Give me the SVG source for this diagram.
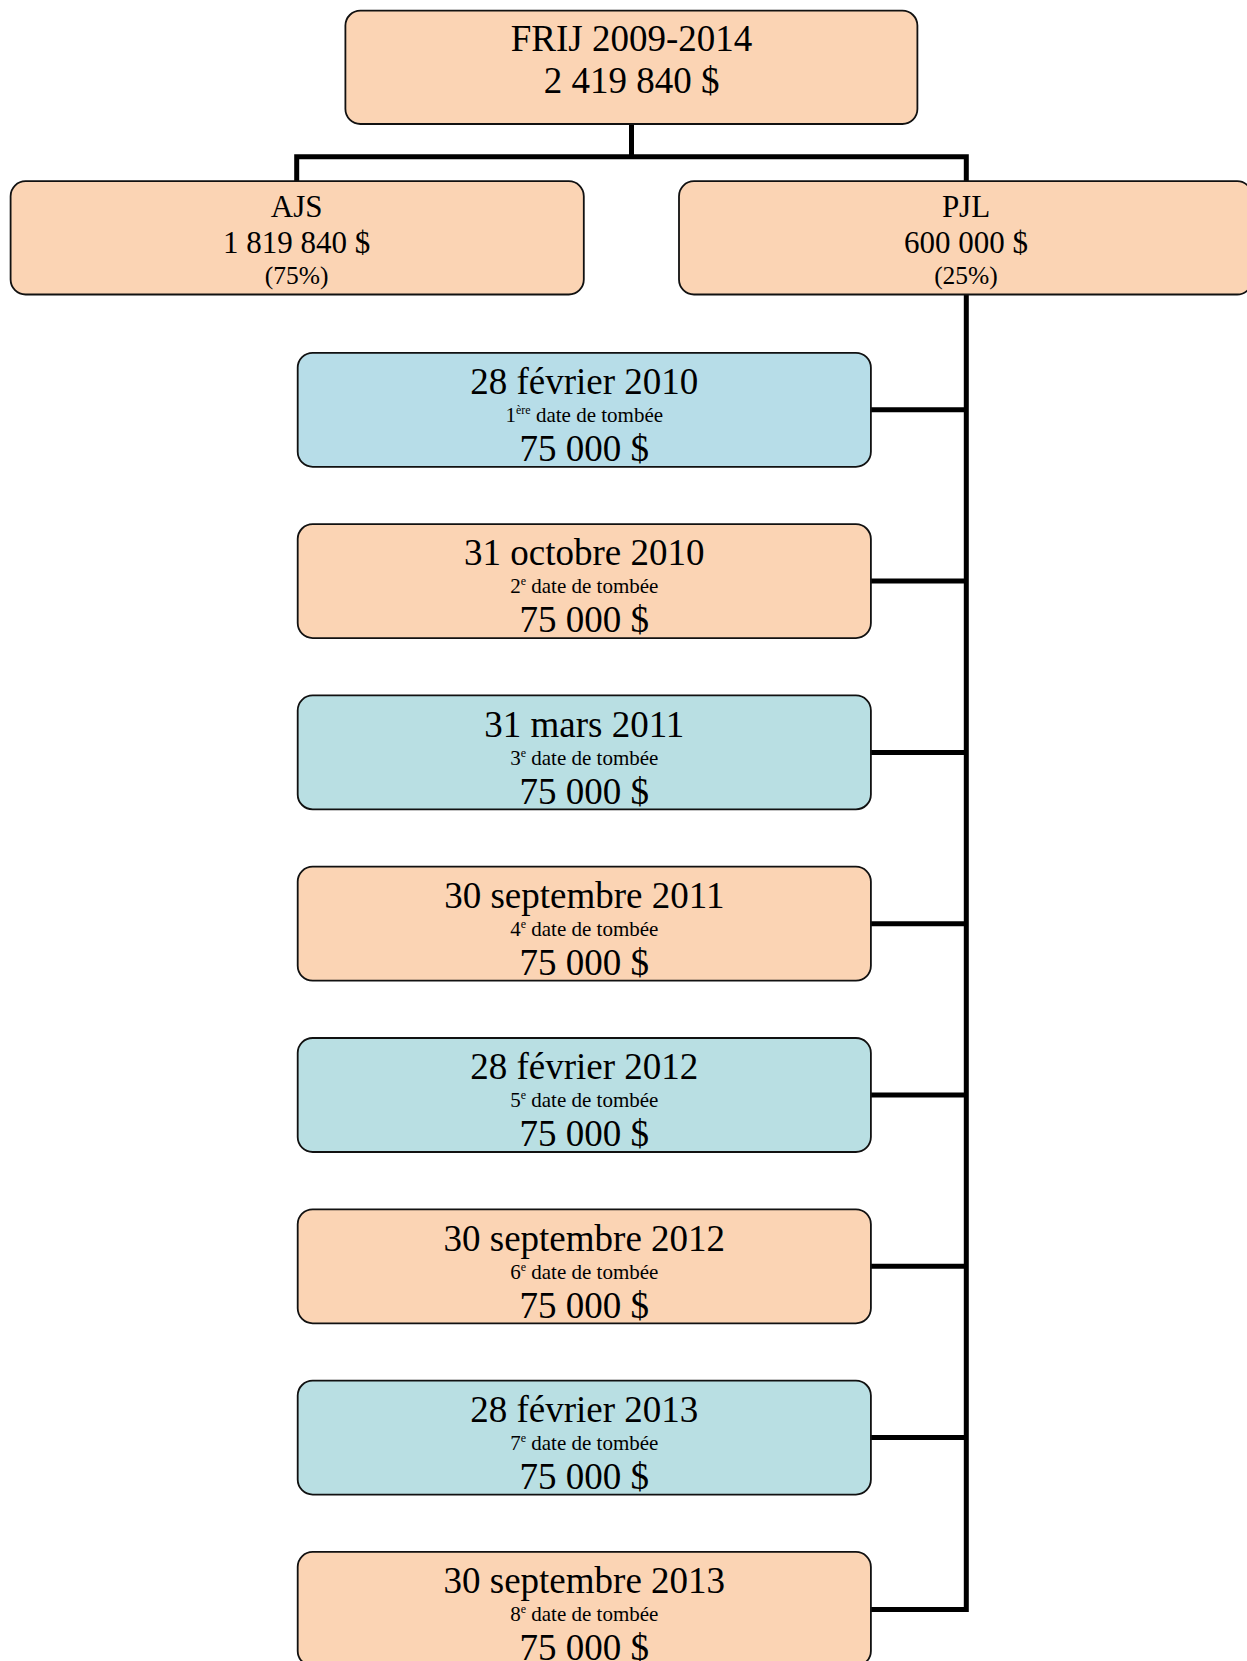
<svg xmlns="http://www.w3.org/2000/svg" width="1247" height="1661" viewBox="0 0 1247 1661">
<style>
.box{stroke:#111;stroke-width:1.8}
.peach{fill:#FBD4B4}
.blue{fill:#B7DDE8}
.teal{fill:#B9DFE3}
text{font-family:"Liberation Serif","Times New Roman",serif;fill:#000;text-anchor:middle}
.t37{font-size:37px}
.t31{font-size:31px}
.t25{font-size:25.5px}
.t21{font-size:21px}
.sup{font-size:12px}
.conn{fill:none;stroke:#000;stroke-width:5;stroke-linejoin:miter;stroke-linecap:butt}
</style>
<g id="connectors">
<path class="conn" d="M631.5,124 V156.8 M296.7,181.2 V156.8 H966.3 V181.2"/>
<path class="conn" d="M966.3,294.5 V1609.4 H870.9"/>
<path class="conn" d="M870.9,409.8 H966.3 M870.9,581.1 H966.3 M870.9,752.4 H966.3 M870.9,923.7 H966.3 M870.9,1095 H966.3 M870.9,1266.3 H966.3 M870.9,1437.6 H966.3"/>
</g>
<g id="frij">
<rect class="box peach" x="345.4" y="10.6" width="572" height="113.4" rx="15"/>
<text class="t37" x="631.5" y="50.7">FRIJ 2009-2014</text>
<text class="t37" x="631.5" y="92.7">2 419 840 $</text>
</g>
<g id="ajs">
<rect class="box peach" x="10.6" y="181.2" width="573.2" height="113.3" rx="15"/>
<text class="t31" x="296.7" y="216.7">AJS</text>
<text class="t31" x="296.7" y="252.7">1 819 840 $</text>
<text class="t25" x="296.7" y="284">(75%)</text>
</g>
<g id="pjl">
<rect class="box peach" x="679" y="181.2" width="573.2" height="113.3" rx="15"/>
<text class="t31" x="966" y="216.7">PJL</text>
<text class="t31" x="966" y="252.7">600 000 $</text>
<text class="t25" x="966" y="284">(25%)</text>
</g>
<g id="date1">
<rect class="box blue" x="297.7" y="352.8" width="573.2" height="114" rx="15"/>
<text class="t37" x="584.3" y="394">28 février 2010</text>
<text class="t21" x="584.3" y="422">1<tspan class="sup" dy="-8">ère</tspan><tspan dy="8"> date de tombée</tspan></text>
<text class="t37" x="584.3" y="461">75 000 $</text>
</g>
<g id="date2">
<rect class="box peach" x="297.7" y="524.1" width="573.2" height="114" rx="15"/>
<text class="t37" x="584.3" y="565.3">31 octobre 2010</text>
<text class="t21" x="584.3" y="593.3">2<tspan class="sup" dy="-8">e</tspan><tspan dy="8"> date de tombée</tspan></text>
<text class="t37" x="584.3" y="632.3">75 000 $</text>
</g>
<g id="date3">
<rect class="box teal" x="297.7" y="695.4" width="573.2" height="114" rx="15"/>
<text class="t37" x="584.3" y="736.6">31 mars 2011</text>
<text class="t21" x="584.3" y="764.6">3<tspan class="sup" dy="-8">e</tspan><tspan dy="8"> date de tombée</tspan></text>
<text class="t37" x="584.3" y="803.6">75 000 $</text>
</g>
<g id="date4">
<rect class="box peach" x="297.7" y="866.7" width="573.2" height="114" rx="15"/>
<text class="t37" x="584.3" y="907.9">30 septembre 2011</text>
<text class="t21" x="584.3" y="935.9">4<tspan class="sup" dy="-8">e</tspan><tspan dy="8"> date de tombée</tspan></text>
<text class="t37" x="584.3" y="974.9">75 000 $</text>
</g>
<g id="date5">
<rect class="box teal" x="297.7" y="1038" width="573.2" height="114" rx="15"/>
<text class="t37" x="584.3" y="1079.2">28 février 2012</text>
<text class="t21" x="584.3" y="1107.2">5<tspan class="sup" dy="-8">e</tspan><tspan dy="8"> date de tombée</tspan></text>
<text class="t37" x="584.3" y="1146.2">75 000 $</text>
</g>
<g id="date6">
<rect class="box peach" x="297.7" y="1209.3" width="573.2" height="114" rx="15"/>
<text class="t37" x="584.3" y="1250.5">30 septembre 2012</text>
<text class="t21" x="584.3" y="1278.5">6<tspan class="sup" dy="-8">e</tspan><tspan dy="8"> date de tombée</tspan></text>
<text class="t37" x="584.3" y="1317.5">75 000 $</text>
</g>
<g id="date7">
<rect class="box teal" x="297.7" y="1380.6" width="573.2" height="114" rx="15"/>
<text class="t37" x="584.3" y="1421.8">28 février 2013</text>
<text class="t21" x="584.3" y="1449.8">7<tspan class="sup" dy="-8">e</tspan><tspan dy="8"> date de tombée</tspan></text>
<text class="t37" x="584.3" y="1488.8">75 000 $</text>
</g>
<g id="date8">
<rect class="box peach" x="297.7" y="1551.9" width="573.2" height="114" rx="15"/>
<text class="t37" x="584.3" y="1593.1">30 septembre 2013</text>
<text class="t21" x="584.3" y="1621.1">8<tspan class="sup" dy="-8">e</tspan><tspan dy="8"> date de tombée</tspan></text>
<text class="t37" x="584.3" y="1660.1">75 000 $</text>
</g>
</svg>
